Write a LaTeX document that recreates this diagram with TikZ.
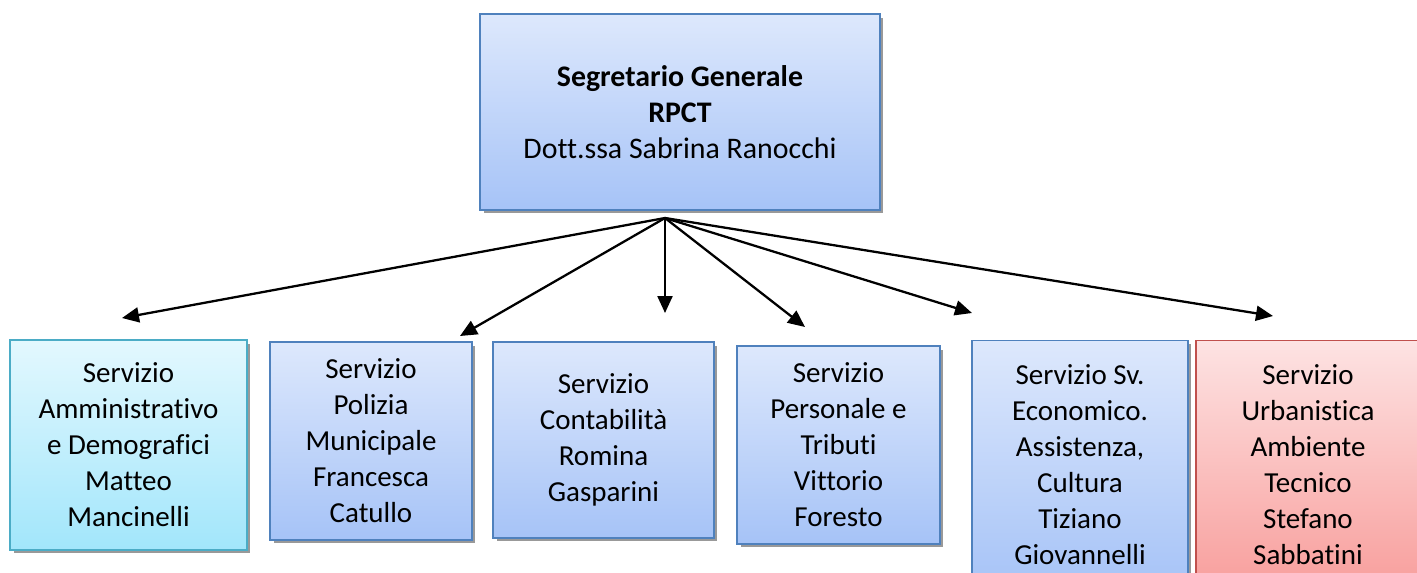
\documentclass[tikz,border=0pt]{standalone}
\usepackage{fontspec}
\setmainfont[Ligatures=NoCommon]{Carlito}
\usetikzlibrary{arrows.meta,shadows}

\definecolor{bluetop}{HTML}{DDE8FC}
\definecolor{bluebot}{HTML}{A6C3F7}
\definecolor{blueline}{HTML}{4F81BD}
\definecolor{cyantop}{HTML}{E3F8FE}
\definecolor{cyanbot}{HTML}{A2E6FB}
\definecolor{cyanline}{HTML}{4BACC6}
\definecolor{redtop}{HTML}{FDE3E3}
\definecolor{redbot}{HTML}{F89E9C}
\definecolor{redline}{HTML}{C0504D}

\begin{document}
\begin{tikzpicture}[x=0.02cm, y=-0.02cm,
	office/.style={draw=blueline, line width=0.8pt, top color=bluetop, bottom color=bluebot,
		align=center, inner sep=0pt, font=\fontsize{16.5}{20.5}\selectfont,
		drop shadow={shadow xshift=0.07cm, shadow yshift=-0.07cm, fill=black!40, opacity=1}},
	link/.style={line width=1.3pt, -{Triangle[length=0.34cm, width=0.3cm]}}]
			%%%%% START %%%%%
			
			\useasboundingbox (0, 0) rectangle (1417, 572);
			
			\node[office, font=\fontsize{17}{20.5}\selectfont,
				minimum width=8cm, minimum height=3.92cm] (segr) at (680, 112)
				{\textbf{Segretario Generale}\\ \textbf{RPCT}\\ Dott.ssa Sabrina Ranocchi};
			
			\node[office, draw=cyanline, top color=cyantop, bottom color=cyanbot,
				minimum width=4.74cm, minimum height=4.2cm] (amm) at (128.5, 445)
				{Servizio\\ Amministrativo\\ e Demografici\\ Matteo\\ Mancinelli};
			\node[office, minimum width=4.04cm, minimum height=3.96cm] (pol) at (371, 441)
				{Servizio\\ Polizia\\ Municipale\\ Francesca\\ Catullo};
			\node[office, minimum width=4.42cm, minimum height=3.92cm] (cont) at (603.5, 440)
				{Servizio\\ Contabilità\\ Romina\\ Gasparini};
			\node[office, minimum width=4.06cm, minimum height=3.96cm] (pers) at (838.5, 445)
				{Servizio\\ Personale e\\ Tributi\\ Vittorio\\ Foresto};
			\node[office, minimum width=4.32cm, minimum height=4.98cm] (econ) at (1080, 465)
				{Servizio Sv.\\ Economico.\\ Assistenza,\\ Cultura\\ Tiziano\\ Giovannelli};
			\node[office, draw=redline, top color=redtop, bottom color=redbot,
				minimum width=4.48cm, minimum height=4.98cm] (urb) at (1308, 465)
				{Servizio\\ Urbanistica\\ Ambiente\\ Tecnico\\ Stefano\\ Sabbatini};
			
			% arrow ends, short of the boxes
			\coordinate (hub) at (665, 218);
			\coordinate (toamm) at (122, 318);
			\coordinate (topol) at (460, 336);
			\coordinate (tocont) at (665, 313);
			\coordinate (topers) at (805, 327);
			\coordinate (toecon) at (972, 313);
			\coordinate (tourb) at (1273, 316);
			
			\foreach \t in {toamm, topol, tocont, topers, toecon, tourb}
				\draw[link] (hub) -- (\t);
			
			%%%%% END %%%%%
\end{tikzpicture}
\end{document}
